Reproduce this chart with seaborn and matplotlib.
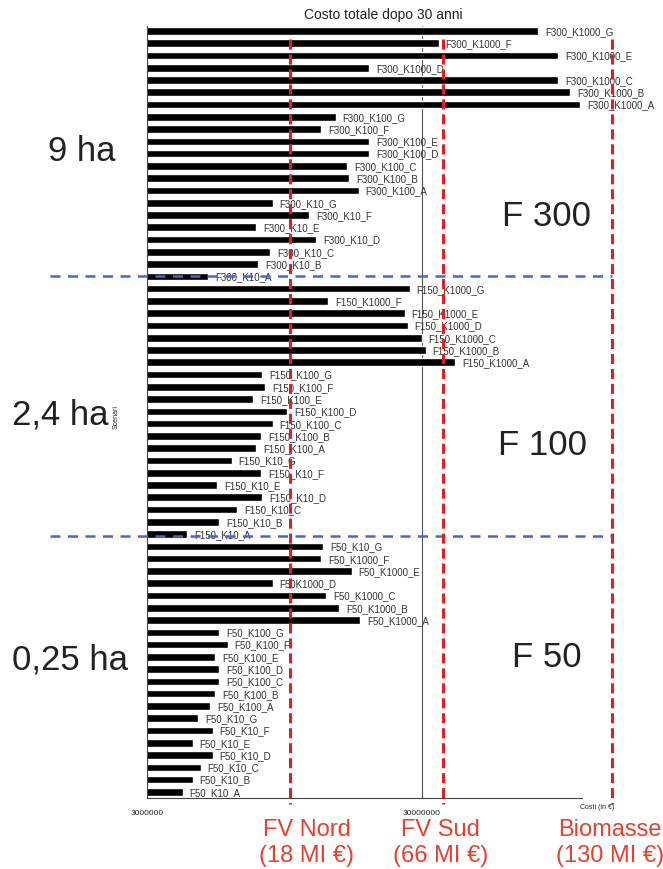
import numpy as np
import pandas as pd
import matplotlib
matplotlib.use("Agg")
import matplotlib.pyplot as plt
from matplotlib.lines import Line2D
from matplotlib.ticker import NullLocator
import seaborn as sns

# scenario names, top to bottom
scenari = [
    "F300_K1000_G", "F300_K1000_F", "F300_K1000_E", "F300_K1000_D", "F300_K1000_C", "F300_K1000_B", "F300_K1000_A",
    "F300_K100_G", "F300_K100_F", "F300_K100_E", "F300_K100_D", "F300_K100_C", "F300_K100_B", "F300_K100_A",
    "F300_K10_G", "F300_K10_F", "F300_K10_E", "F300_K10_D", "F300_K10_C", "F300_K10_B", "F300_K10_A",
    "F150_K1000_G", "F150_K1000_F", "F150_K1000_E", "F150_K1000_D", "F150_K1000_C", "F150_K1000_B", "F150_K1000_A",
    "F150_K100_G", "F150_K100_F", "F150_K100_E", "F150_K100_D", "F150_K100_C", "F150_K100_B", "F150_K100_A",
    "F150_K10_G", "F150_K10_F", "F150_K10_E", "F150_K10_D", "F150_K10_C", "F150_K10_B", "F150_K10_A",
    "F50_K10_G", "F50_K1000_F", "F50_K1000_E", "F50K1000_D", "F50_K1000_C", "F50_K1000_B", "F50_K1000_A",
    "F50_K100_G", "F50_K100_F", "F50_K100_E", "F50_K100_D", "F50_K100_C", "F50_K100_B", "F50_K100_A",
    "F50_K10_G", "F50_K10_F", "F50_K10_E", "F50_K10_D", "F50_K10_C", "F50_K10_B", "F50_K10_A",
]

# total cost after 30 years (in millions of euro)
costi_f300 = [79.6, 34.6, 94.1, 19.3, 94.1, 104.0, 113.0,
              14.6, 12.9, 19.3, 19.3, 16.1, 16.3, 17.7,
              8.6, 11.7, 7.5, 12.4, 8.4, 7.6, 5.0]
costi_f150 = [27.1, 13.7, 26.0, 26.7, 30.0, 31.0, 39.8,
              7.9, 8.1, 7.3, 9.7, 8.6, 7.8, 7.5,
              6.1, 7.8, 5.4, 7.9, 6.4, 5.5, 4.2]
costi_f50 = [13.1, 12.9, 16.7, 8.6, 13.5, 15.0, 17.9,
             5.5, 5.9, 5.3, 5.5, 5.5, 5.3, 5.1,
             4.6, 5.2, 4.4, 5.2, 4.7, 4.4, 4.05]

df = pd.DataFrame({
    "Scenari": scenari,
    "pos": np.arange(len(scenari)),   # one slot per bar (names are not all unique)
    "Costi": np.array(costi_f300 + costi_f150 + costi_f50) * 1e6,
})

area_labels = ["9 ha", "2,4 ha", "0,25 ha"]
gruppi = ["F 300", "F 100", "F 50"]
riferimenti = ["FV Nord\n(18 MI €)", "FV Sud\n(66 MI €)", "Biomasse\n(130 MI €)"]

sns.set_style("white")
plt.rcParams["font.family"] = ["Liberation Sans", "DejaVu Sans"]

fig = plt.figure(figsize=(6.63, 8.7), dpi=100)
ax = fig.add_axes([0.2217, 0.0816, 0.6561, 0.8874])

sns.barplot(data=df, x="Costi", y="pos", orient="h", color="black", width=0.62,
            saturation=1, errorbar=None, ax=ax)
ax.set_xscale("log")
ax.set_xlim(3e6, 1.15e8)
ax.set_ylim(62.5, -0.4)

ax.set_xticks([3e6, 3e7])
ax.set_xticklabels(["3000000", "30000000"], fontsize=6, color="#222222")
ax.xaxis.set_minor_locator(NullLocator())
ax.tick_params(axis="x", length=0, pad=8)
ax.set_yticks([])
ax.grid(axis="x", which="major", color="#555555", lw=0.8)
ax.set_axisbelow(True)

for s in ["top", "right"]:
    ax.spines[s].set_visible(False)
for s in ["left", "bottom"]:
    ax.spines[s].set_color("#444444")
    ax.spines[s].set_linewidth(0.8)

ax.set_xlabel("Costi (in €)", fontsize=5, color="#222222")
ax.xaxis.set_label_coords(1.034, -0.006)
ax.set_ylabel("Scenari", fontsize=5, color="#222222")
ax.yaxis.set_label_coords(-0.062, 0.495)

# scenario names at the bar ends
for i, (nome, val) in enumerate(zip(df["Scenari"], df["Costi"])):
    ax.annotate(nome, xy=(val, i), xytext=(5, 0), textcoords="offset points",
                va="center", ha="left", fontsize=7, color="#333333")

fig.text(0.578, 0.983, "Costo totale dopo 30 anni", fontsize=10,
         ha="center", va="center", color="#222222")

# separators between surface groups
for yf in [0.6816, 0.3828]:
    fig.add_artist(Line2D([0.075, 0.923], [yf, yf], color="#4466dd", lw=1.8,
                          linestyle=(0, (4, 3))))

# reference plants
for xf, txt_x, txt in zip([0.4374, 0.6682, 0.9231], [0.463, 0.664, 0.920], riferimenti):
    fig.add_artist(Line2D([xf, xf], [0.954, 0.0747], color="#e02020", lw=2.2,
                          linestyle=(0, (3.3, 1.6))))
    fig.text(txt_x, 0.031, txt, fontsize=17, ha="center", va="center",
             color="#e8402f", linespacing=1.2)

for (xf, yf), txt in zip([(0.0724, 0.8264), (0.018, 0.523), (0.018, 0.2414)], area_labels):
    fig.text(xf, yf, txt, fontsize=25, ha="left", va="center", color="#222222")

for (xf, yf), txt in zip([(0.757, 0.7506), (0.751, 0.4885), (0.772, 0.2448)], gruppi):
    fig.text(xf, yf, txt, fontsize=25, ha="left", va="center", color="#222222")

fig.savefig("out.png", dpi=100)
